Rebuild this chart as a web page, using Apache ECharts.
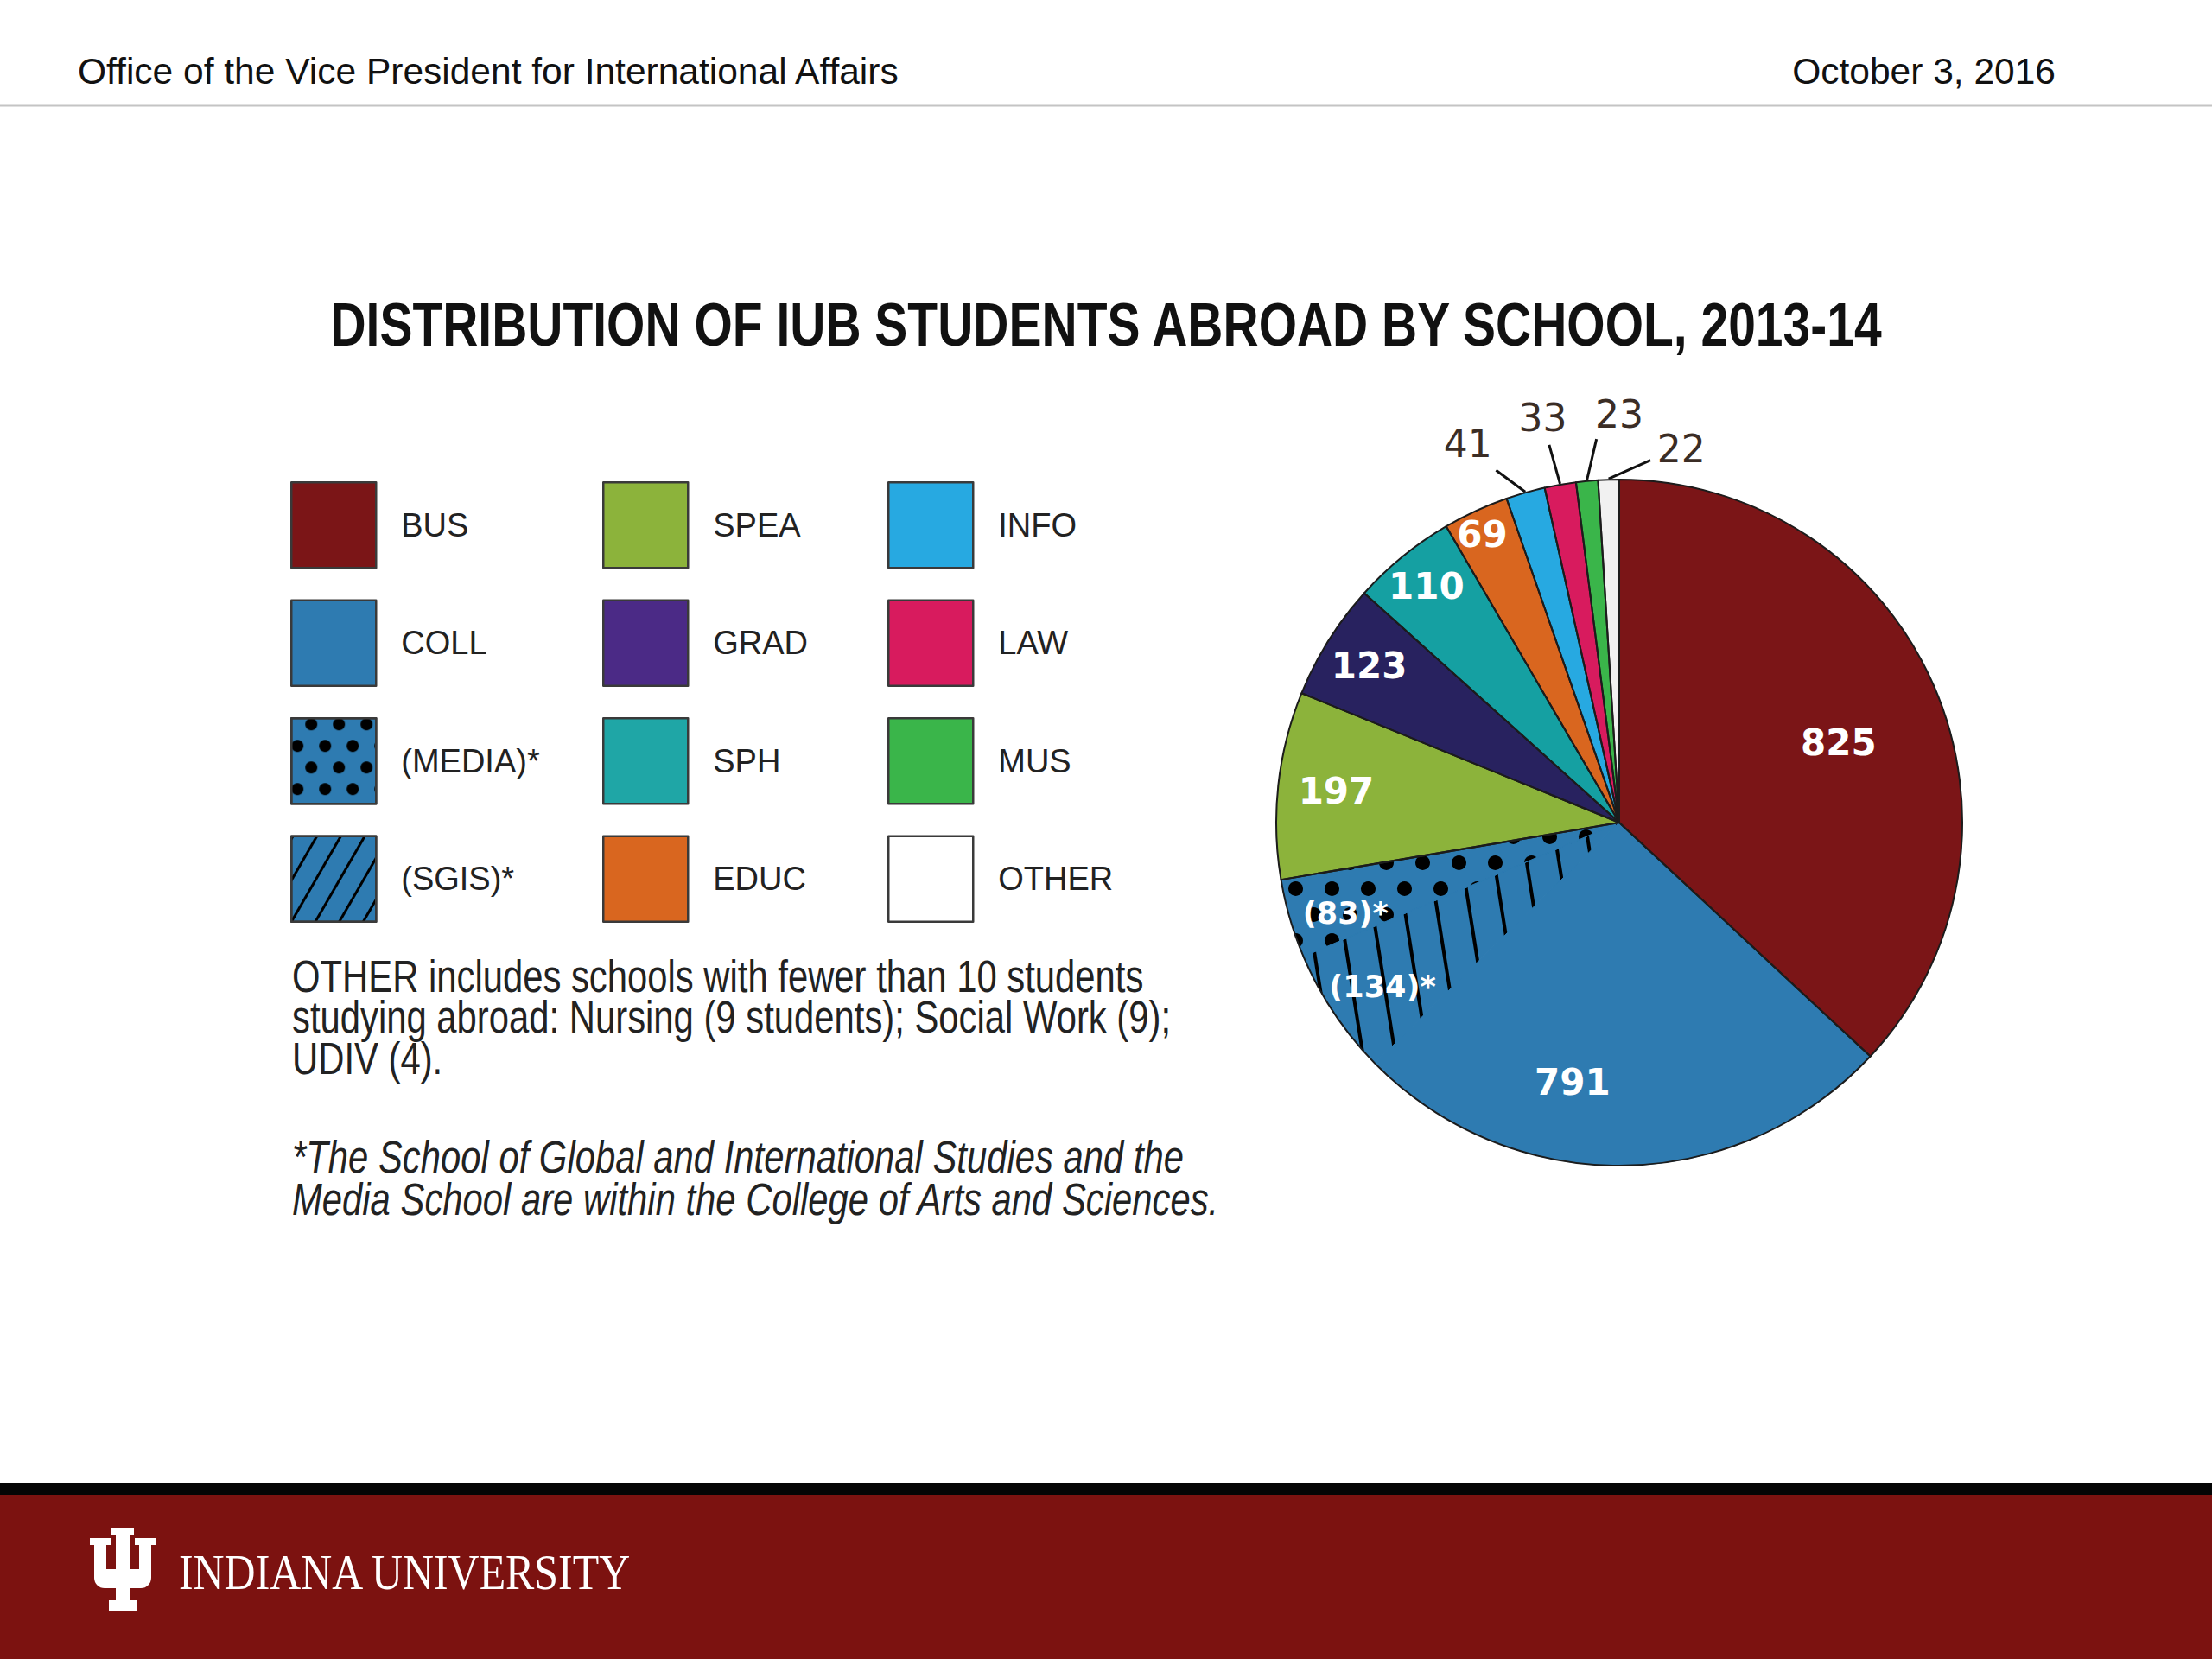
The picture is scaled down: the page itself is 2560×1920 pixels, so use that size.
<!DOCTYPE html>
<html><head><meta charset="utf-8">
<script src="https://cdn.jsdelivr.net/npm/echarts@6/dist/echarts.min.js"></script>
<style>html,body{margin:0;padding:0;background:#fff}#chart{width:2560px;height:1920px}</style>
</head><body><div id="chart"></div>
<script>
// ---------------- DATA ----------------
const schools = ['BUS', 'COLL', 'SPEA', 'GRAD', 'SPH', 'EDUC', 'INFO', 'LAW', 'MUS', 'OTHER'];
const students = [825, 791, 197, 123, 110, 69, 41, 33, 23, 22];
// units inside the College (COLL total 791 includes them)
const collegeUnits = ['(SGIS)*', '(MEDIA)*'];
const collegeUnitStudents = [134, 83];
const legendColumns = [
  ['BUS', 'COLL', '(MEDIA)*', '(SGIS)*'],
  ['SPEA', 'GRAD', 'SPH', 'EDUC'],
  ['INFO', 'LAW', 'MUS', 'OTHER']
];
const titleText = 'DISTRIBUTION OF IUB STUDENTS ABROAD BY SCHOOL, 2013-14';
const headerLeft = 'Office of the Vice President for International Affairs';
const headerRight = 'October 3, 2016';
const noteText = 'OTHER includes schools with fewer than 10 students\nstudying abroad: Nursing (9 students); Social Work (9);\nUDIV (4).';
const footText = '*The School of Global and International Studies and the\nMedia School are within the College of Arts and Sciences.';
const brandText = 'INDIANA UNIVERSITY';

// ---------------- STYLE ----------------
const colors = {
  'BUS': '#7b1517', 'COLL': '#2e7bb1', '(SGIS)*': '#2e7bb1', '(MEDIA)*': '#2e7bb1',
  'SPEA': '#8cb33b', 'GRAD': '#28225f', 'SPH': '#15a0a2', 'EDUC': '#d9661f',
  'INFO': '#27a9e1', 'LAW': '#d81b5e', 'MUS': '#3ab54a', 'OTHER': '#f1f1f1'
};
const legendColors = { 'GRAD': '#4b2a86', 'SPH': '#1fa6a6', 'OTHER': '#ffffff' };
const CX = 1874, CY = 952, R = 397;
// label placement: angle shift (deg) from slice mid-angle, radius ratio; outside: leader end
const labelPlace = {
  'BUS': { s: 3.6, k: 0.68 }, 'COLL': { s: 11, k: 0.77 },
  '(SGIS)*': { s: -1, k: 0.84 }, '(MEDIA)*': { s: -2, k: 0.84 },
  'SPEA': { s: 0, k: 0.83 }, 'GRAD': { s: 0, k: 0.86 }, 'SPH': { s: 0, k: 0.89 }, 'EDUC': { s: -0.7, k: 0.93 },
  'INFO': { s: -5.9, k: 1.19, ls: -3.4, lk: 1.088 },
  'LAW': { s: -0.8, k: 1.20, ls: -0.6, lk: 1.12 },
  'MUS': { s: 5.4, k: 1.19, ls: 2, lk: 1.12 },
  'OTHER': { s: 11.2, k: 1.105, ls: 6.7, lk: 1.06 }
};
const outsideNames = ['INFO', 'LAW', 'MUS', 'OTHER'];

function hasFont(f) {
  const c = document.createElement('canvas').getContext('2d');
  const s = 'mmmmmmmmmmlliWW0123abc';
  let r = false;
  ['monospace', 'serif'].forEach(function (fb) {
    c.font = '72px ' + fb; const a = c.measureText(s).width;
    c.font = '72px "' + f + '", ' + fb; const b = c.measureText(s).width;
    if (a !== b) r = true;
  });
  return r;
}
const NARROW = hasFont('Liberation Sans Narrow');
const narrowFam = NARROW ? '"Liberation Sans Narrow"' : '"Liberation Sans"';
const narrowScale = NARROW ? 1 : 0.82;

// ---------------- BUILD PIE DATA ----------------
const collRest = students[1] - collegeUnitStudents.reduce((a, b) => a + b, 0);
const pieNames = [schools[0], schools[1]].concat(collegeUnits, schools.slice(2));
const pieValues = [students[0], collRest].concat(collegeUnitStudents, students.slice(2));
const pieTotal = pieValues.reduce((a, b) => a + b, 0);
const midAngles = [];
(function () { let c = 0; pieValues.forEach(v => { midAngles.push((c + v / 2) / pieTotal * 360); c += v; }); })();

const decalSGIS = { symbol: 'rect', symbolSize: 1, dashArrayX: [8, 0], dashArrayY: [3.5, 33], rotation: Math.PI * 0.45, color: '#000' };
const decalMEDIA = { symbol: 'circle', symbolSize: 1, dashArrayX: [[17, 25], [0, 21, 17, 4]], dashArrayY: [17, 13], color: '#000' };
const decalSGISLegend = { symbol: 'rect', symbolSize: 1, dashArrayX: [8, 0], dashArrayY: [3, 21], rotation: -Math.PI / 3, color: '#000' };
const decalMEDIALegend = { symbol: 'circle', symbolSize: 1, dashArrayX: [[14, 18], [0, 16, 14, 2]], dashArrayY: [14, 11], color: '#000' };

function labelTextFor(name, value) {
  if (name === 'COLL') return String(students[1]);
  if (collegeUnits.indexOf(name) >= 0) return '(' + value + ')*';
  return String(value);
}

const pieData = pieNames.map(function (name, i) {
  const outside = outsideNames.indexOf(name) >= 0;
  const unit = collegeUnits.indexOf(name) >= 0;
  const item = {
    name: name, value: pieValues[i],
    itemStyle: { color: colors[name], borderColor: colors[name], borderWidth: 1 },
    label: outside ? {
      show: true, position: 'outside', formatter: labelTextFor(name, pieValues[i]),
      color: '#3b2d25', fontFamily: 'DejaVu Sans', fontSize: 44, fontWeight: 'normal'
    } : {
      show: true, position: 'inside', formatter: labelTextFor(name, pieValues[i]),
      color: '#ffffff', fontFamily: 'DejaVu Sans', fontWeight: 'bold', fontSize: unit ? 35 : 42
    },
    labelLine: { show: outside, lineStyle: { color: '#111', width: 3 } }
  };
  if (name === '(SGIS)*') item.itemStyle.decal = decalSGIS;
  if (name === '(MEDIA)*') item.itemStyle.decal = decalMEDIA;
  return item;
});

function polar(angDeg, rad) {
  const a = angDeg * Math.PI / 180;
  return [CX + rad * Math.sin(a), CY - rad * Math.cos(a)];
}

const legendLeft = [336, 697, 1027];
function legendItem(n) {
  const it = { name: n };
  const st = {};
  if (legendColors[n]) st.color = legendColors[n];
  if (n === '(SGIS)*') st.decal = decalSGISLegend;
  if (n === '(MEDIA)*') st.decal = decalMEDIALegend;
  if (Object.keys(st).length) it.itemStyle = st;
  return it;
}

const chart = echarts.init(document.getElementById('chart'), null, { renderer: 'svg', width: 2560, height: 1920 });

function wrect(x, y, w, h, r) {
  const sh = { x: x, y: y, width: w, height: h };
  if (r) sh.r = r;
  return { type: 'rect', shape: sh, style: { fill: '#fff' } };
}
const trident = {
  type: 'group', x: 104, y: 1768, silent: true,
  children: [
    wrect(25, 0, 26, 8), wrect(30, 0, 16, 86),
    wrect(0, 12, 24, 8), wrect(5, 12, 14, 46),
    wrect(52, 12, 24, 8), wrect(57, 12, 14, 46),
    wrect(5, 48, 66, 22, [0, 0, 12, 12]),
    wrect(22, 84, 32, 13)
  ]
};

const option = {
  backgroundColor: '#ffffff',
  animation: false,
  graphic: [
    { type: 'text', x: 90, y: 82, style: { text: headerLeft, fontFamily: '"Liberation Sans"', fontSize: 42.5, fill: '#111', align: 'left', verticalAlign: 'middle' } },
    { type: 'text', x: 2379, y: 82, style: { text: headerRight, fontFamily: '"Liberation Sans"', fontSize: 42.5, fill: '#111', align: 'right', verticalAlign: 'middle' } },
    { type: 'line', shape: { x1: 0, y1: 122, x2: 2560, y2: 122 }, style: { stroke: '#c4c4c4', lineWidth: 3 } },
    { type: 'text', x: 1280, y: 375, scaleX: narrowScale, style: { text: titleText, fontFamily: narrowFam, fontWeight: 'bold', fontSize: 69.5, fill: '#111', align: 'center', verticalAlign: 'middle' } },
    { type: 'text', x: 338, y: 1106, scaleX: narrowScale, style: { text: noteText, fontFamily: narrowFam, fontSize: 51, lineHeight: 48, fill: '#222', align: 'left', verticalAlign: 'top' } },
    { type: 'text', x: 338, y: 1314, scaleX: narrowScale, style: { text: footText, fontFamily: narrowFam, fontStyle: 'italic', fontSize: 51, lineHeight: 50, fill: '#222', align: 'left', verticalAlign: 'top' } },
    { type: 'rect', shape: { x: 0, y: 1716, width: 2560, height: 15 }, style: { fill: '#050505' } },
    { type: 'rect', shape: { x: 0, y: 1730, width: 2560, height: 190 }, style: { fill: '#7c1210' } },
    trident,
    { type: 'text', x: 207, y: 1820, scaleX: 0.86, style: { text: brandText, fontFamily: '"Liberation Serif"', fontSize: 58, fill: '#fff', align: 'left', verticalAlign: 'middle' } }
  ],
  legend: legendColumns.map(function (col, ci) {
    return {
      data: col.map(legendItem), orient: 'vertical', left: legendLeft[ci], top: 557, padding: 0,
      itemWidth: 98, itemHeight: 99, itemGap: 35, icon: 'rect', selectedMode: false,
      itemStyle: { borderColor: '#3a3a3a', borderWidth: 2.5 },
      textStyle: { fontFamily: narrowFam, fontSize: NARROW ? 45 : 38, color: '#222', padding: [0, 0, 0, 24] }
    };
  }),
  series: [
    {
      type: 'pie', name: 'main', center: [CX, CY], radius: R, startAngle: 90, clockwise: true,
      avoidLabelOverlap: false, silent: true, emphasis: { disabled: true, scale: false },
      data: pieData,
      labelLayout: function (params) {
        const i = params.dataIndex;
        const name = pieNames[i];
        const p = labelPlace[name];
        const mid = midAngles[i];
        const pos = polar(mid + p.s, p.k * R);
        const res = { x: pos[0], y: pos[1], align: 'center', verticalAlign: 'middle' };
        if (p.ls !== undefined) {
          const a = polar(mid, R + 1);
          const b = polar(mid + p.ls, p.lk * R);
          res.labelLinePoints = [a, [(a[0] + b[0]) / 2, (a[1] + b[1]) / 2], b];
        }
        return res;
      }
    },
    {
      type: 'pie', name: 'outline', center: [CX, CY], radius: R, startAngle: 90, clockwise: true,
      silent: true, legendHoverLink: false, z: 5, emphasis: { disabled: true, scale: false },
      label: { show: false }, labelLine: { show: false },
      itemStyle: { color: 'rgba(0,0,0,0)', borderColor: '#1c1c1c', borderWidth: 2 },
      data: schools.map(function (n, i) { return { name: n, value: students[i] }; })
    }
  ]
};
chart.setOption(option);
</script>
</body></html>
